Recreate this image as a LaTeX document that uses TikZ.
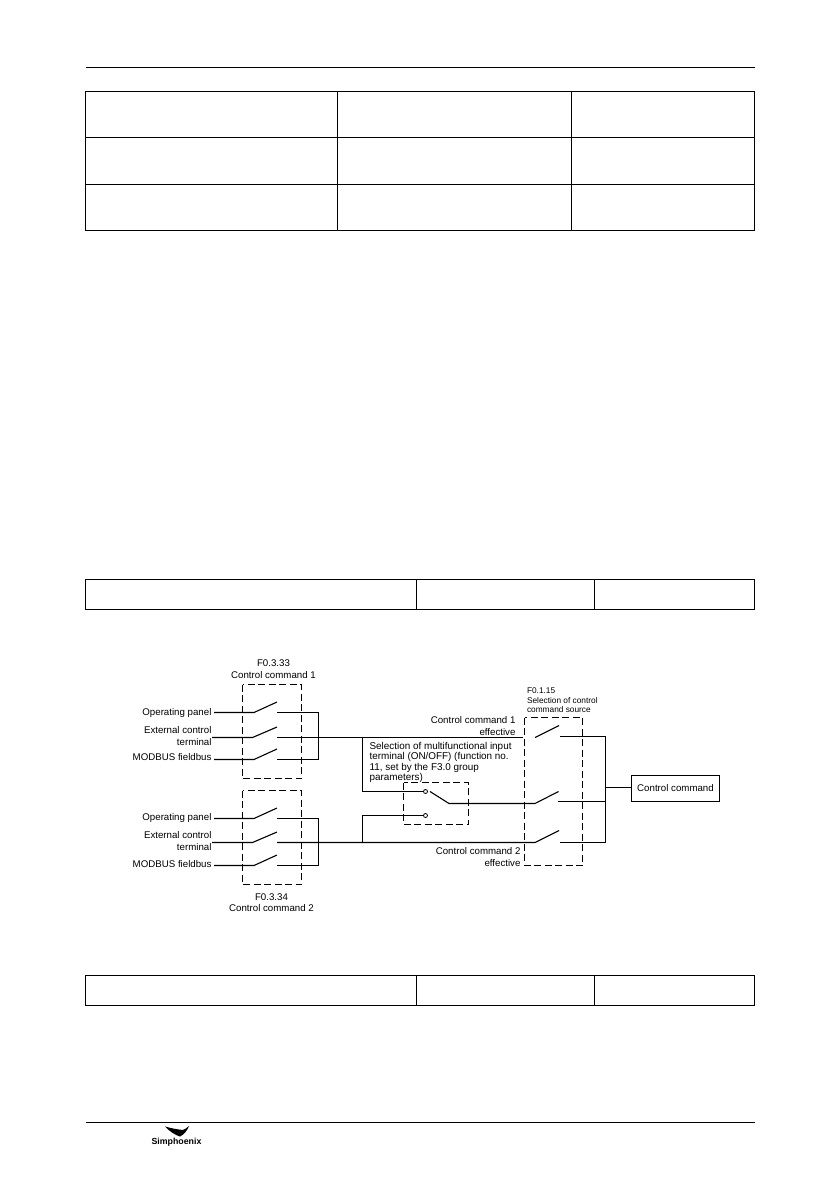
\documentclass[tikz,border=0pt]{standalone}
\usepackage{fontspec}
\setmainfont{Liberation Sans}
\begin{document}
\begin{tikzpicture}[x=1pt, y=-1pt, line width=1.1pt,
    dashBox/.style={dash pattern=on 7pt off 3.5pt, line width=1.1pt},
    tableRule/.style={line width=1.1pt},
    labelText/.style={font=\fontsize{9.7}{11.7}\selectfont, inner sep=0pt, align=right, anchor=east},
    titleText/.style={font=\fontsize{9.7}{11.7}\selectfont, inner sep=0pt, align=center},
    smallText/.style={font=\fontsize{8.3}{9.8}\selectfont, inner sep=0pt, align=left, anchor=north west},
    contactDot/.style={circle, draw, fill=white, inner sep=0pt, minimum size=4pt, line width=0.8pt}]

    \useasboundingbox (0,0) rectangle (839,1191);
    \def\pageLeft{85.5}
    \def\pageRight{754.5}

    % Draw page rules
    \draw[tableRule] (\pageLeft,67.5) -- (\pageRight,67.5);
    \draw[tableRule] (\pageLeft,1122.5) -- (\pageRight,1122.5);

    % Draw top table
    \draw[tableRule] (\pageLeft,91.5) rectangle (\pageRight,230.5);
    \foreach \y in {137.5,184.5}
        \draw[tableRule] (\pageLeft,\y) -- (\pageRight,\y);
    \foreach \x in {337.5,571.5}
        \draw[tableRule] (\x,91.5) -- (\x,230.5);

    % Draw single row tables
    \foreach \t/\b in {579.5/609.5,975.5/1005.5} {
        \draw[tableRule] (\pageLeft,\t) rectangle (\pageRight,\b);
        \foreach \x in {416.5,594.5}
            \draw[tableRule] (\x,\t) -- (\x,\b);
    }

    % Draw logo
    \fill (165,1126.5) .. controls (172,1128.5) and (178,1129.5) .. (183,1130)
        .. controls (185,1129) and (187,1128) .. (189,1126)
        .. controls (187,1131) and (184,1134.5) .. (180,1136.5)
        .. controls (175,1135) and (169,1131) .. (165,1126.5) -- cycle;
    \node[inner sep=0pt, font=\bfseries\fontsize{8.8}{9}\selectfont] (logoText) at (176.5,1142.5) {Simphoenix};

    % Dashed boxes
    \draw[dashBox] (242.5,684.5) rectangle (301.5,778.5);
    \draw[dashBox] (242.5,790.5) rectangle (301.5,884.5);
    \draw[dashBox] (403.5,782.5) rectangle (468.5,824.5);
    \draw[dashBox] (524.5,717.5) rectangle (582.5,865.5);

    % Input labels of both groups
    \node[labelText] (panelA) at (212,712.5) {Operating panel};
    \node[labelText] (extA) at (212,736) {External control\\terminal};
    \node[labelText] (busA) at (212,757.5) {MODBUS fieldbus};
    \node[labelText] (panelB) at (212,818) {Operating panel};
    \node[labelText] (extB) at (212,841) {External control\\terminal};
    \node[labelText] (busB) at (212,864.5) {MODBUS fieldbus};

    % Titles
    \node[titleText] (titleA) at (273.5,669) {F0.3.33\\Control command 1};
    \node[titleText] (titleB) at (271.5,902.5) {F0.3.34\\Control command 2};
    \node[smallText] (titleC) at (526.5,687) {F0.1.15\\Selection of control\\command source};
    \node[labelText] (effectA) at (516,726) {Control command 1\\effective};
    \node[labelText] (effectB) at (521,857) {Control command 2\\effective};
    \node[font=\fontsize{9.9}{10.2}\selectfont, inner sep=0pt, align=left, anchor=north west] (selText) at (369,742)
        {Selection of multifunctional input\\terminal (ON/OFF) (function no.\\11, set by the F3.0 group\\parameters)};

    % Switches of both groups
    \foreach \nm/\y/\lx/\sx in {a/712.5/214/254, b/737.5/212/252.5, c/759.5/214/254,
                                d/818.5/214/254, e/842.5/212/252.5, f/865.5/214/254} {
        \coordinate (in\nm) at (\lx,\y);
        \coordinate (sw\nm) at (\sx,\y);
        \coordinate (tip\nm) at (277,\y-10.5);
        \coordinate (out\nm) at (277,\y);
        \draw (in\nm) -- (sw\nm) -- (tip\nm);
    }
    \coordinate (junctionA) at (318.5,737.5);
    \coordinate (junctionB) at (318.5,842.5);
    \draw (outa) -| (junctionA) |- (outc);
    \draw (outd) -| (junctionB) |- (outf);

    % Selection switch
    \node[contactDot] (dotA) at (425.5,791.5) {};
    \node[contactDot] (dotB) at (425.5,815.5) {};
    \coordinate (splitA) at (362.5,737.5);
    \coordinate (splitB) at (362.5,842.5);
    \coordinate (armTop) at (430,791.5);
    \coordinate (armEnd) at (449,803.5);
    \draw (splitA) |- (dotA);
    \draw (splitB) |- (dotB);

    % Source switch
    \coordinate (endA) at (523,737.5);
    \coordinate (swA) at (535,737.5);
    \coordinate (swB) at (535,803.5);
    \coordinate (swC) at (535,842.5);
    \coordinate (tipA) at (559,725.5);
    \coordinate (tipB) at (558.5,791.5);
    \coordinate (tipC) at (559,830.5);
    \coordinate (outA) at (560,736.5);
    \coordinate (outB) at (558,801.5);
    \coordinate (outC) at (560,842.5);
    \draw (oute) -- (swC) -- (tipC);
    \draw (outb) -- (endA);
    \draw (swA) -- (tipA);
    \draw (armTop) -- (armEnd) -- (swB) -- (tipB);

    % Output
    \node[draw, minimum width=88pt, minimum height=26pt, inner sep=0pt, font=\fontsize{9.7}{12}\selectfont] (cmdBox) at (675.5,788.5) {Control command};
    \coordinate (busNode) at (605.5,787.5);
    \draw (outA) -| (busNode) |- (outC);
    \draw (outB) -- (outB -| busNode);
    \draw (busNode) -- (busNode -| cmdBox.west);

\end{tikzpicture}
\end{document}
